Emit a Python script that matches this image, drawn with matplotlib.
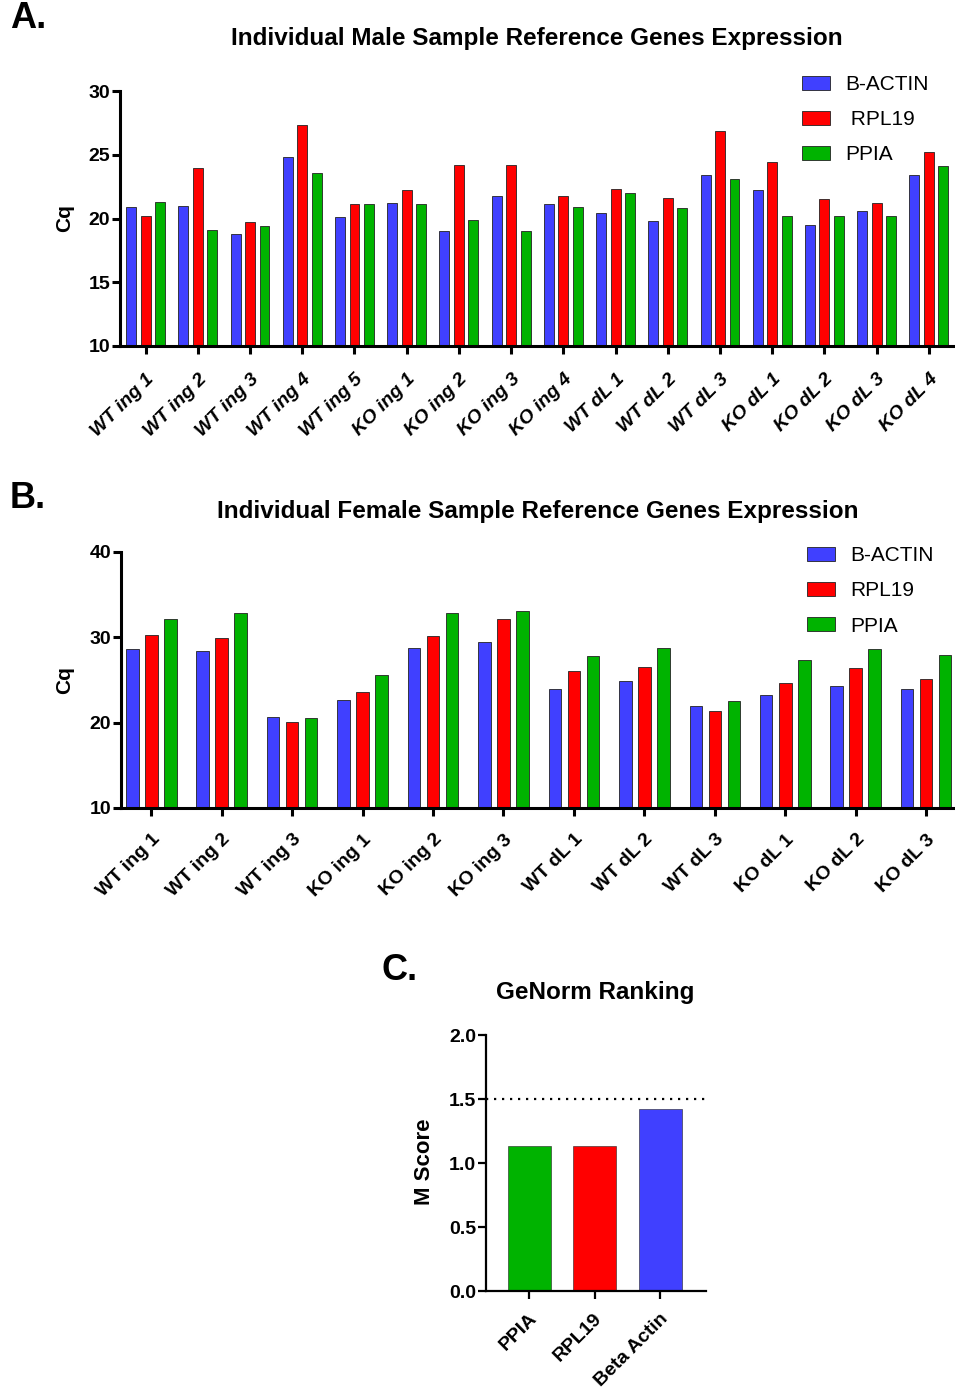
import matplotlib
matplotlib.use("Agg")
import matplotlib.pyplot as plt
import matplotlib.transforms as mtransforms
import numpy as np

plt.rcParams['font.family'] = ['Liberation Sans', 'DejaVu Sans']

# ---- data ----
male_samples = ["WT ing 1", "WT ing 2", "WT ing 3", "WT ing 4", "WT ing 5",
                "KO ing 1", "KO ing 2", "KO ing 3", "KO ing 4",
                "WT dL 1", "WT dL 2", "WT dL 3",
                "KO dL 1", "KO dL 2", "KO dL 3", "KO dL 4"]
male_actin = [20.9, 21.0, 18.8, 24.8, 20.1, 21.2, 19.0, 21.8, 21.1,
              20.4, 19.8, 23.4, 22.2, 19.5, 20.6, 23.4]
male_rpl19 = [20.2, 24.0, 19.7, 27.3, 21.1, 22.2, 24.2, 24.2, 21.8,
              22.3, 21.6, 26.9, 24.4, 21.5, 21.2, 25.2]
male_ppia = [21.3, 19.1, 19.4, 23.6, 21.1, 21.1, 19.9, 19.0, 20.9,
             22.0, 20.8, 23.1, 20.2, 20.2, 20.2, 24.1]

female_samples = ["WT ing 1", "WT ing 2", "WT ing 3", "KO ing 1", "KO ing 2", "KO ing 3",
                  "WT dL 1", "WT dL 2", "WT dL 3", "KO dL 1", "KO dL 2", "KO dL 3"]
female_actin = [28.6, 28.4, 20.7, 22.7, 28.8, 29.5, 24.0, 24.9, 21.9, 23.3, 24.3, 24.0]
female_rpl19 = [30.3, 29.9, 20.1, 23.6, 30.1, 32.2, 26.0, 26.5, 21.4, 24.6, 26.4, 25.1]
female_ppia = [32.2, 32.8, 20.6, 25.6, 32.8, 33.1, 27.8, 28.7, 22.5, 27.4, 28.6, 27.9]

genes = ["PPIA", "RPL19", "Beta Actin"]
m_scores = [1.13, 1.13, 1.42]

BLUE = "#4040ff"
RED = "#ff0000"
GREEN = "#00b300"

W, H = 955, 1388
fig = plt.figure(figsize=(W / 100, H / 100), dpi=100)


def px_axes(left, top, right, bottom):
    return fig.add_axes([left / W, 1 - bottom / H, (right - left) / W, (bottom - top) / H])


def fx(x):
    return x / W


def fy(y):
    return 1 - y / H


def style_axes(ax, lw=2.2):
    for s in ["top", "right"]:
        ax.spines[s].set_visible(False)
    for s in ["left", "bottom"]:
        ax.spines[s].set_linewidth(lw)
    ax.tick_params(axis="both", width=lw, length=5.5, labelsize=14)
    ax.tick_params(axis="y", pad=1.5)
    for lab in ax.get_yticklabels():
        lab.set_fontweight("bold")


def shift_xlabels(ax, dx_px):
    offset = mtransforms.ScaledTranslation(dx_px / 100, 0, fig.dpi_scale_trans)
    for lab in ax.xaxis.get_majorticklabels():
        lab.set_transform(lab.get_transform() + offset)


def grouped(ax, labels, a, r, p, width, off, legend_labels, leg_xy, italic):
    x = np.arange(len(labels))
    kw = dict(edgecolor="#222222", linewidth=0.6)
    ax.bar(x - off, a, width, color=BLUE, label=legend_labels[0], **kw)
    ax.bar(x, r, width, color=RED, label=legend_labels[1], **kw)
    ax.bar(x + off, p, width, color=GREEN, label=legend_labels[2], **kw)
    ax.set_xticks(x)
    ax.set_xticklabels(labels, rotation=45, ha="right", va="top",
                       rotation_mode="anchor", fontsize=15, fontweight="bold",
                       fontstyle="italic" if italic else "normal")
    ax.legend(loc="upper left", bbox_to_anchor=(fx(leg_xy[0]), fy(leg_xy[1])),
              bbox_transform=fig.transFigure, frameon=False, fontsize=15,
              handlelength=1.35, handleheight=0.67, handletextpad=0.72,
              labelspacing=0.78, borderpad=0, borderaxespad=0)


# ---- panel A ----
axA = px_axes(120, 91, 955, 346)
grouped(axA, male_samples, male_actin, male_rpl19, male_ppia, 0.19, 0.277,
        ["B-ACTIN", " RPL19", "PPIA"], (802, 75), True)
axA.set_xlim(-0.49, 15.5)
axA.set_ylim(10, 30)
axA.set_yticks([10, 15, 20, 25, 30])
style_axes(axA)
axA.tick_params(axis="x", pad=12)
shift_xlabels(axA, 0)

# ---- panel B ----
axB = px_axes(121, 552, 955, 808)
grouped(axB, female_samples, female_actin, female_rpl19, female_ppia, 0.178, 0.27,
        ["B-ACTIN", "RPL19", "PPIA"], (807, 546), False)
axB.set_xlim(-0.43, 11.41)
axB.set_ylim(10, 40)
axB.set_yticks([10, 20, 30, 40])
style_axes(axB)
axB.tick_params(axis="x", pad=11)
shift_xlabels(axB, 0)

# ---- panel C ----
axC = px_axes(486, 1035, 706, 1291)
xc = np.arange(len(genes))
axC.bar(xc, m_scores, 0.66, color=[GREEN, RED, BLUE], edgecolor="#222222", linewidth=0.4)
axC.axhline(1.5, color="black", linestyle=(0, (1, 2.6)), linewidth=1.6)
axC.set_xlim(-0.66, 2.70)
axC.set_ylim(0, 2.0)
axC.set_yticks([0.0, 0.5, 1.0, 1.5, 2.0])
axC.set_yticklabels(["0.0", "0.5", "1.0", "1.5", "2.0"])
axC.set_xticks(xc)
axC.set_xticklabels(genes, rotation=45, ha="right", va="top", rotation_mode="anchor",
                    fontsize=14, fontweight="bold")
style_axes(axC, lw=1.6)
axC.tick_params(axis="x", pad=8, width=1.6)
shift_xlabels(axC, -1)

# ---- titles and labels ----
fig.text(fx(537), fy(39), "Individual Male Sample Reference Genes Expression",
         ha="center", va="center", fontsize=17.5, fontweight="bold")
fig.text(fx(538), fy(511), "Individual Female Sample Reference Genes Expression",
         ha="center", va="center", fontsize=17.5, fontweight="bold")
fig.text(fx(595), fy(993), "GeNorm Ranking", ha="center", va="center",
         fontsize=17.5, fontweight="bold")

fig.text(fx(10), fy(19), "A.", ha="left", va="center", fontsize=26, fontweight="bold")
fig.text(fx(10), fy(498), "B.", ha="left", va="center", fontsize=26, fontweight="bold")
fig.text(fx(381), fy(971), "C.", ha="left", va="center", fontsize=26, fontweight="bold")

fig.text(fx(65), fy(218), "Cq", ha="center", va="center", rotation=90,
         fontsize=15, fontweight="bold")
fig.text(fx(65), fy(680), "Cq", ha="center", va="center", rotation=90,
         fontsize=15, fontweight="bold")
fig.text(fx(424), fy(1162), "M Score", ha="center", va="center", rotation=90,
         fontsize=16, fontweight="bold")

fig.savefig("out.png", dpi=100, facecolor="white")
